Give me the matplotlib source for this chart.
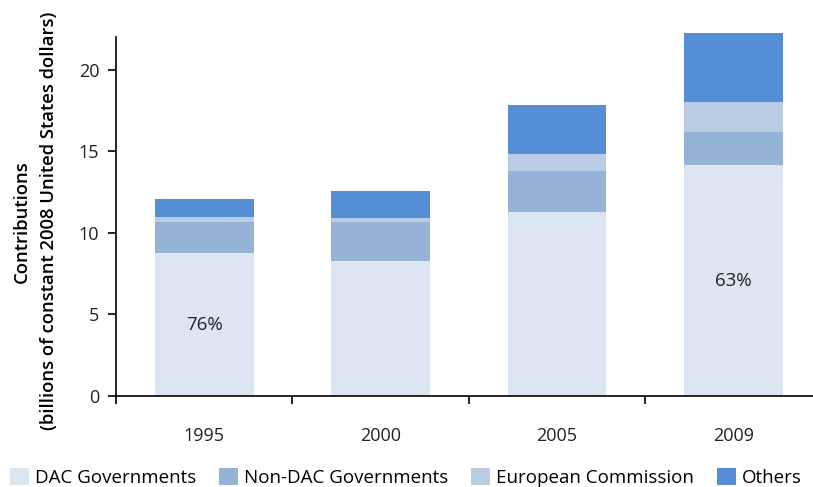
import numpy as np
import matplotlib
matplotlib.use('Agg')
import matplotlib.pyplot as plt

years = ['1995', '2000', '2005', '2009']
dac = [8.75, 8.26, 11.3, 14.13]
non_dac = [1.9, 2.39, 2.46, 2.02]
ec = [0.3, 0.25, 1.04, 1.85]
others = [1.1, 1.65, 3.06, 4.26]
dac_share = ['76%', '', '', '63%']

colors = ['#DCE6F2', '#95B3D7', '#B9CDE5', '#558ED5']
names = ['DAC Governments', 'Non-DAC Governments', 'European Commission', 'Others']

plt.rcParams['font.family'] = ['Open Sans', 'DejaVu Sans']

fig = plt.figure(figsize=(8.13, 4.87), dpi=100)
ax = fig.add_axes([0.1427, 0.1869, 0.857, 0.7371])

x = np.arange(len(years))
bottom = np.zeros(len(years))
for vals, c, n in zip([dac, non_dac, ec, others], colors, names):
    ax.bar(x, vals, width=0.56, bottom=bottom, color=c, label=n, clip_on=False)
    bottom += np.array(vals)

for i, s in enumerate(dac_share):
    if s:
        ax.text(x[i], dac[i] / 2, s, ha='center', va='center', fontsize=13.5, color='#222222')

ax.set_xlim(-0.5, 3.45)
ax.set_ylim(0, 22)
ax.set_yticks([0, 5, 10, 15, 20])
ax.set_xticks(x)
ax.set_xticklabels(years)
ax.set_xticks(np.arange(-0.5, 3.5, 1), minor=True)
ax.tick_params(axis='x', which='major', length=0, pad=22, labelsize=13, labelcolor='#222222')
ax.tick_params(axis='x', which='minor', length=6, width=1.2, direction='out')
ax.tick_params(axis='y', length=6, width=1.2, labelsize=13, pad=6, labelcolor='#222222')
for s in ['top', 'right']:
    ax.spines[s].set_visible(False)
for s in ['left', 'bottom']:
    ax.spines[s].set_linewidth(1.2)

ax.set_ylabel('Contributions\n(billions of constant 2008 United States dollars)',
              fontsize=13.3, fontweight='semibold', labelpad=15, linespacing=1.65,
              y=0.487)

fig.legend(loc='lower left', bbox_to_anchor=(-0.008, -0.035), ncol=4, frameon=False,
           fontsize=13.5, handlelength=1.0, handleheight=1.0, handletextpad=0.3,
           columnspacing=1.25)

fig.savefig('out.png', dpi=100)
